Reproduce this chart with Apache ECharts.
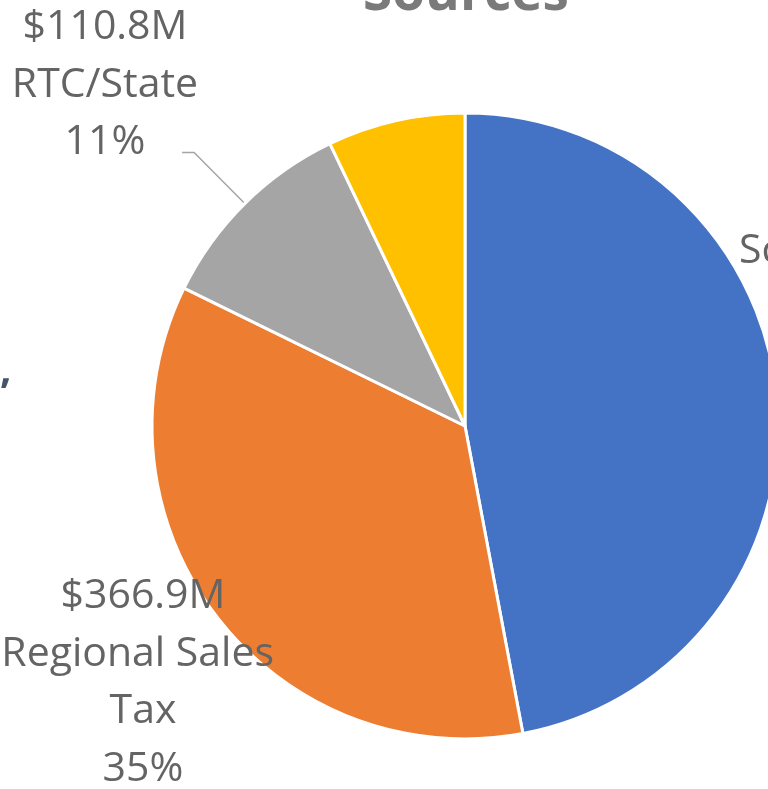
<!DOCTYPE html>
<html>
<head>
<meta charset="utf-8">
<script src="https://cdn.jsdelivr.net/npm/echarts@6/dist/echarts.min.js"></script>
<style>
    html, body { margin: 0; padding: 0; background: #fff; }
    #chart { width: 768px; height: 789px; }
</style>
</head>
<body>
<div id="chart"></div>
<script>
    // slices, clockwise from 12 o'clock
    const names = ['Sc', 'Regional Sales Tax', 'RTC/State', '']
    const amounts = [490, 366.9, 110.8, 74]
    const colors = ['#4472C4', '#ED7D31', '#A5A5A5', '#FFC000']

    const textColor = '#646464'
    const font = '"Open Sans", "Noto Sans", sans-serif'

    const chart = echarts.init(document.getElementById('chart'))

    const labelFor = (p) => {
        if (p.dataIndex === 0) return p.name
        return '$' + p.value + 'M\n' + p.name + '\n' + Math.round(p.percent) + '%'
    }

    const option = {
        animation: false,
        graphic: [
            {
                type: 'text',
                x: 466,
                y: -5,
                style: {
                    text: 'Sources',
                    align: 'center',
                    verticalAlign: 'middle',
                    fill: '#7a7a7a',
                    font: 'bold 53px ' + font
                }
            },
            {
                type: 'text',
                x: 0,
                y: 372,
                style: {
                    text: ',',
                    align: 'left',
                    verticalAlign: 'middle',
                    fill: '#44546A',
                    font: 'bold 40px ' + font
                }
            }
        ],
        series: [
            {
                type: 'pie',
                center: [465, 426],
                radius: 313,
                startAngle: 90,
                clockwise: true,
                avoidLabelOverlap: false,
                itemStyle: {
                    borderColor: '#fff',
                    borderWidth: 3
                },
                label: {
                    show: true,
                    position: 'outside',
                    formatter: labelFor,
                    color: textColor,
                    fontFamily: font,
                    fontSize: 41,
                    lineHeight: 57.5,
                    width: 320,
                    overflow: 'break'
                },
                labelLine: {
                    show: true,
                    length: 72,
                    length2: 12,
                    smooth: false,
                    lineStyle: { color: '#A5A5A5', width: 1.5 }
                },
                labelLayout: (p) => {
                    if (p.dataIndex === 0) {
                        return { x: 739, y: 251, align: 'left', verticalAlign: 'middle' }
                    }
                    if (p.dataIndex === 1) {
                        return { x: 143, y: 683, align: 'center', verticalAlign: 'middle' }
                    }
                    if (p.dataIndex === 2) {
                        return {
                            x: 105, y: 85, align: 'center', verticalAlign: 'middle',
                            labelLinePoints: p.labelLinePoints
                        }
                    }
                    return {}
                },
                data: amounts.map((v, i) => ({
                    name: names[i],
                    value: v,
                    itemStyle: { color: colors[i] },
                    label: { show: i !== 3 },
                    labelLine: { show: i === 2 }
                }))
            }
        ]
    }

    chart.setOption(option)
</script>
</body>
</html>
